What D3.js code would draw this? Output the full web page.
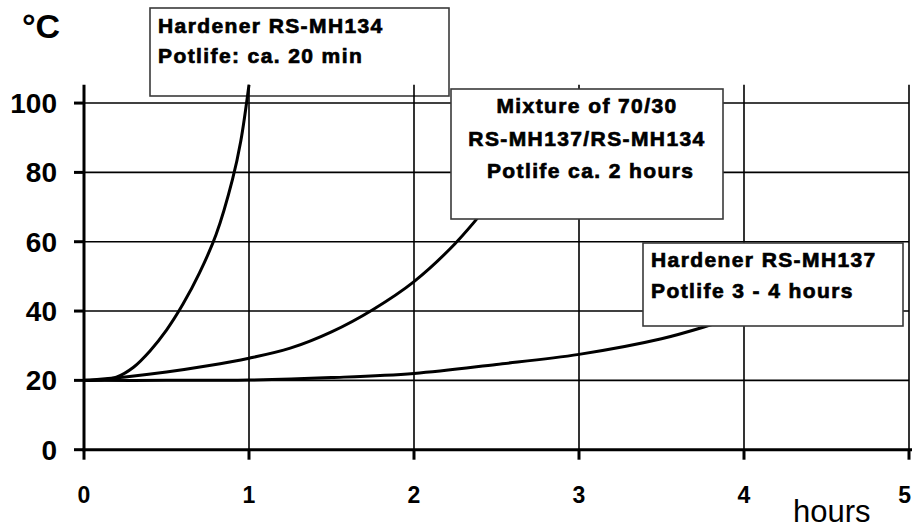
<!DOCTYPE html>
<meta charset="utf-8">
<style>
  body { margin: 0; background: #fff; }
  text { font-family: "Liberation Sans", Arial, sans-serif; fill: #000; }
</style>
<script src="https://d3js.org/d3.v7.min.js"></script>
<div id="chart"></div>
<script>

// tick values
var xTicks = [0, 1, 2, 3, 4, 5];
var yTicks = [0, 20, 40, 60, 80, 100];

// curves: [hours, °C]
var rsMH134 = [[0, 20], [0.1, 20.1], [0.2, 21], [0.3, 23.8], [0.4, 28.5], [0.5, 34.5],
  [0.6, 42], [0.7, 51], [0.8, 62], [0.9, 78], [0.95, 89], [1.0, 105.3]];
var mixture = [[0, 20], [0.25, 21], [0.5, 22.4], [0.75, 24.2], [1.0, 26.4], [1.25, 29.3],
  [1.5, 34], [1.75, 40.4], [2.0, 48.5], [2.25, 59.5], [2.5, 73.5]];
var rsMH137 = [[0, 20], [0.5, 20], [1.0, 20.1], [1.5, 20.8], [2.0, 22], [2.5, 24.6],
  [3.0, 27.5], [3.5, 32], [3.8, 36], [4.0, 39]];

// annotation texts
var label134 = ["Hardener RS-MH134", "Potlife: ca. 20 min"];
var labelMix = ["Mixture of 70/30", "RS-MH137/RS-MH134", " Potlife ca. 2 hours"];
var label137 = ["Hardener RS-MH137", "Potlife 3 - 4 hours"];

var width = 912, height = 529;

var svg = d3.select("#chart")
  .append("svg")
    .attr("width", width)
    .attr("height", height);

var x = d3.scaleLinear().domain([0, 5]).range([84, 909]);
var y = d3.scaleLinear().domain([0, 105.3]).range([449.7, 84.7]);

// draws a white note box with lines of text
function note(lines, bx, by, bw, bh, baselines, anchor) {
  var g = svg.append("g");
  g.append("rect")
    .attr("x", bx).attr("y", by)
    .attr("width", bw).attr("height", bh)
    .attr("fill", "#fff")
    .attr("stroke", "#3a3a3a")
    .attr("stroke-width", 1.6);
  g.selectAll("text")
    .data(lines)
    .enter().append("text")
      .attr("x", anchor == "middle" ? bx + bw / 2 : bx + 8)
      .attr("y", function(d, i) { return baselines[i]; })
      .attr("text-anchor", anchor)
      .attr("font-size", 21)
      .attr("font-weight", "bold")
      .attr("letter-spacing", 1.4)
      .attr("stroke", "#000")
      .attr("stroke-width", 0.7)
      .style("white-space", "pre")
      .text(function(d) { return d; });
}

// first box sits behind the plot
note(label134, 150, 8, 299, 88, [33, 63], "start");

// grid
svg.append("g")
  .selectAll("line")
  .data(yTicks.slice(1))
  .enter().append("line")
    .attr("x1", x(0)).attr("x2", x(5))
    .attr("y1", function(d) { return y(d); })
    .attr("y2", function(d) { return y(d); })
    .attr("stroke", "#000").attr("stroke-width", 1.6);
svg.append("g")
  .selectAll("line")
  .data(xTicks.slice(1))
  .enter().append("line")
    .attr("x1", function(d) { return x(d); })
    .attr("x2", function(d) { return x(d); })
    .attr("y1", y(0)).attr("y2", y(105.3))
    .attr("stroke", "#000").attr("stroke-width", 1.6);

// axes
svg.append("line")
  .attr("x1", x(0)).attr("x2", x(0))
  .attr("y1", y(105.3)).attr("y2", y(0) + 1.5)
  .attr("stroke", "#000").attr("stroke-width", 3);
svg.append("line")
  .attr("x1", x(0) - 1.5).attr("x2", width)
  .attr("y1", y(0)).attr("y2", y(0))
  .attr("stroke", "#000").attr("stroke-width", 3);

// tick marks
svg.append("g")
  .selectAll("line")
  .data(yTicks)
  .enter().append("line")
    .attr("x1", x(0) - 10).attr("x2", x(0))
    .attr("y1", function(d) { return y(d); })
    .attr("y2", function(d) { return y(d); })
    .attr("stroke", "#000").attr("stroke-width", 3);
svg.append("g")
  .selectAll("line")
  .data(xTicks)
  .enter().append("line")
    .attr("x1", function(d) { return x(d); })
    .attr("x2", function(d) { return x(d); })
    .attr("y1", y(0)).attr("y2", y(0) + 10)
    .attr("stroke", "#000").attr("stroke-width", 3);

// tick labels
svg.append("g")
  .selectAll("text")
  .data(yTicks)
  .enter().append("text")
    .attr("x", 57)
    .attr("y", function(d) { return y(d) + 10; })
    .attr("text-anchor", "end")
    .attr("font-size", 28)
    .attr("font-weight", "bold")
    .text(function(d) { return d; });
svg.append("g")
  .selectAll("text")
  .data(xTicks)
  .enter().append("text")
    .attr("x", function(d) { return d == 5 ? width - 1 : x(d); })
    .attr("y", 503)
    .attr("text-anchor", function(d) { return d == 5 ? "end" : "middle"; })
    .attr("font-size", 23)
    .attr("font-weight", "bold")
    .text(function(d) { return d; });

// axis titles
svg.append("text")
  .attr("x", 22).attr("y", 38)
  .attr("font-size", 34)
  .attr("font-weight", "bold")
  .text("°C");
svg.append("text")
  .attr("x", 793).attr("y", 522)
  .attr("font-size", 31)
  .text("hours");

// curves
var line = d3.line()
  .x(function(d) { return x(d[0]); })
  .y(function(d) { return y(d[1]); })
  .curve(d3.curveCatmullRom.alpha(0.5));

[rsMH134, mixture, rsMH137].forEach(function(s) {
  svg.append("path")
    .datum(s)
    .attr("d", line)
    .attr("fill", "none")
    .attr("stroke", "#000")
    .attr("stroke-width", 3);
});

// other two boxes cover the curve ends
note(labelMix, 451, 89, 272, 130, [113, 146, 178], "middle");
note(label137, 643, 243, 260, 83, [267, 298], "start");

</script>
